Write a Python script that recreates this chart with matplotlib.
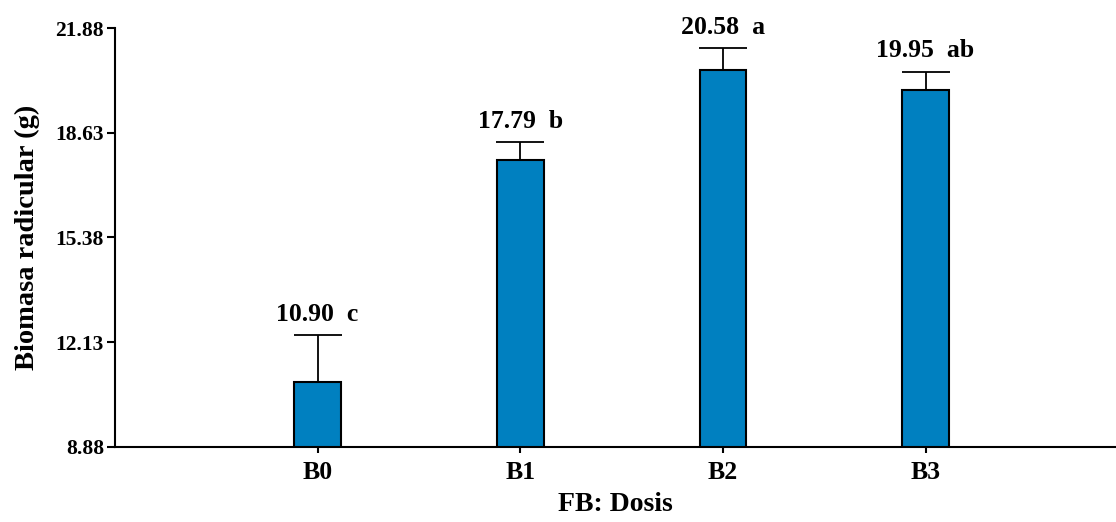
import numpy as np
import matplotlib
matplotlib.use("Agg")
import matplotlib.pyplot as plt

# data
doses = ["B0", "B1", "B2", "B3"]
means = [10.90, 17.79, 20.58, 19.95]
errors = [1.44, 0.54, 0.67, 0.56]
letters = ["c", "b", "a", "ab"]
yticks = [8.88, 12.13, 15.38, 18.63, 21.88]


def main():
    plt.rcParams["font.family"] = ["Liberation Serif", "DejaVu Serif"]
    plt.rcParams["font.weight"] = "bold"

    fig = plt.figure(figsize=(11.16, 5.22), dpi=100)
    ax = fig.add_axes([115 / 1116, 1 - 447 / 522, 1 - 115 / 1116, (447 - 28) / 522])

    x = np.arange(len(doses))
    ax.bar(x, means, width=0.23, bottom=0, color="#0080c0",
           edgecolor="black", linewidth=1.5, zorder=2)
    ax.errorbar(x, means, yerr=[np.zeros(len(errors)), errors], fmt="none",
                ecolor="black", elinewidth=1.3, capsize=17, capthick=1.3, zorder=1)

    for xi, m, e, l in zip(x, means, errors, letters):
        ax.annotate(f"{m:.2f}  {l}", xy=(xi, m + e), xytext=(0, 7),
                    textcoords="offset points", ha="center", va="bottom",
                    fontsize=18.5, fontweight="bold", annotation_clip=False)

    ax.set_xlim(-1, 3.94)
    ax.set_ylim(yticks[0], yticks[-1])
    ax.set_yticks(yticks)
    ax.set_yticklabels([f"{t:.2f}" for t in yticks], fontsize=15.5, fontweight="bold")
    ax.set_xticks(x)
    ax.set_xticklabels(doses, fontsize=18.5, fontweight="bold")

    ax.spines["top"].set_visible(False)
    ax.spines["right"].set_visible(False)
    ax.spines["left"].set_linewidth(1.5)
    ax.spines["bottom"].set_linewidth(1.5)
    ax.tick_params(axis="y", direction="out", length=6, width=1.5, pad=2)
    ax.tick_params(axis="x", direction="out", length=4, width=1.5, pad=6)

    ax.set_ylabel("Biomasa radicular (g)", fontsize=20.5, fontweight="bold", labelpad=11)
    ax.set_xlabel("FB: Dosis", fontsize=20, fontweight="bold", labelpad=6)

    fig.savefig("out.png", dpi=100)


if __name__ == "__main__":
    main()
